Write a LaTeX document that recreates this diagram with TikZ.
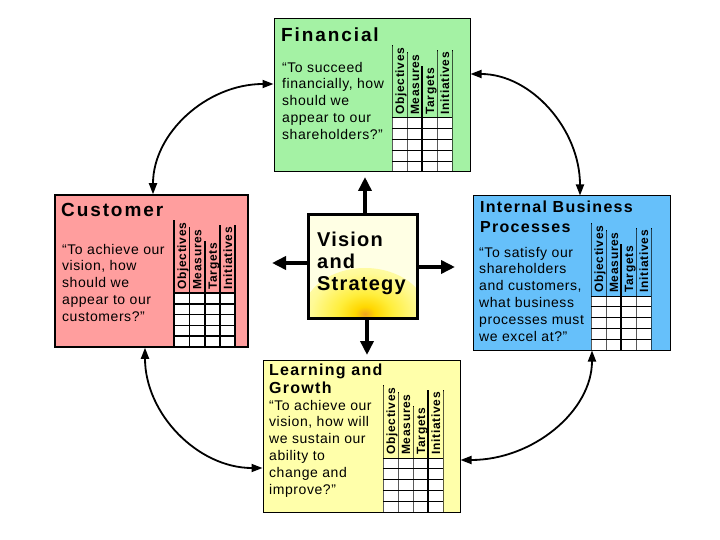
\documentclass[tikz,border=0pt]{standalone}
\usepackage{fontspec}
\setmainfont{Liberation Sans}
\newfontfamily\fA{Liberation Sans}[LetterSpace=10]
\newfontfamily\fB{Liberation Sans}[LetterSpace=8]
\newfontfamily\fC{Liberation Sans}[LetterSpace=4]
\newfontfamily\fD{Liberation Sans Bold}[LetterSpace=6]
\newfontfamily\fE{Liberation Sans}[LetterSpace=6]
\usetikzlibrary{arrows.meta,calc}

\definecolor{fingreen}{RGB}{164,242,164}
\definecolor{custpink}{RGB}{255,158,158}
\definecolor{intblue}{RGB}{102,192,250}
\definecolor{learnyel}{RGB}{255,255,170}
\definecolor{visionpale}{RGB}{255,255,228}
\definecolor{glowA}{RGB}{240,165,30}
\definecolor{glowB}{RGB}{255,215,0}
\definecolor{glowC}{RGB}{255,238,60}
\definecolor{glowD}{RGB}{255,250,150}
\definecolor{glowE}{RGB}{255,254,205}
\pgfdeclareradialshading{glow}{\pgfpoint{0bp}{0bp}}{color(0bp)=(glowA); color(4bp)=(glowB); color(11bp)=(glowC); color(22bp)=(glowD); color(36bp)=(glowE); color(50bp)=(visionpale)}

\tikzset{
  bscbox/.style={draw=black, line width=1pt, rectangle, inner sep=0pt},
  ttlbig/.style={font=\fA\bfseries\fontsize{19}{22}\selectfont, anchor=base west, inner sep=0pt},
  ttlmid/.style={font=\fB\bfseries\fontsize{16}{19}\selectfont, anchor=base west, inner sep=0pt},
  bodytxt/.style={font=\fC\fontsize{14}{16.8}\selectfont, anchor=north west, inner sep=0pt, align=left},
  colhead/.style={font=\fD\fontsize{12}{14}\selectfont, rotate=90, anchor=base west, inner sep=0pt},
  vistxt/.style={font=\fE\bfseries\fontsize{20}{22}\selectfont, anchor=base west, inner sep=0pt},
  bigarrow/.style={line width=3.5pt, -{Triangle[length=14pt,width=13pt]}},
  curvarrow/.style={line width=1.8pt, {Triangle[length=11pt,width=8pt]}-{Triangle[length=11pt,width=8pt]}}
}

% #1 name, #2 x0, #3 col width, #4 top, #5 bottom, #6 thick index, #7 line width
\newcommand{\bsctable}[7]{%
  \fill[white] (#2,#4) rectangle ({#2+4*#3},#5);
  \foreach \i/\hd in {0/Objectives,1/Measures,2/Targets,3/Initiatives}{
    \node[colhead] (#1h\i) at ({#2+(\i+0.5)*#3+4.5},{#4-3}) {\hd};
  }
  \foreach \r in {0,...,5}{
    \draw[line width=#7 pt] (#2,{#4+\r*(#5-#4)/5}) -- ({#2+4*#3},{#4+\r*(#5-#4)/5});
  }
  \foreach \i in {0,1,2,3}{
    \pgfmathsetmacro\lw{(\i==#6)?1.9:#7}
    \coordinate (#1b\i) at ({#2+\i*#3},#5);
    \draw[line width=\lw pt] (#1b\i) -- (#1b\i |- #1h\i.east) -- ++(0,-2);
  }
  \coordinate (#1b4) at ({#2+4*#3},#5);
  \draw[line width=#7 pt] (#1b4) -- (#1b4 |- #1h3.east) -- ++(0,-2);
}

\begin{document}
\begin{tikzpicture}[x=1pt,y=-1pt]
\useasboundingbox[fill=white] (0,0) rectangle (720,540);

% ---------- Financial ----------
\node[bscbox, fill=fingreen, minimum width=196pt, minimum height=153pt] (fin) at (372,95.5) {};
\bsctable{fin}{392}{15}{118}{172}{2}{1}
\node[ttlbig] (finT) at (281,42) {Financial};
\node[bodytxt] (finB) at (282,61.8) {“To succeed\\financially, how\\should we\\appear to our\\shareholders?”};

% ---------- Customer ----------
\node[bscbox, fill=custpink, line width=1.5pt, minimum width=193pt, minimum height=152pt] (cust) at (151.5,271) {};
\bsctable{cust}{174}{15.3}{293}{347}{2}{1.5}
\node[ttlbig] (custT) at (61,217) {Customer};
\node[bodytxt] (custB) at (62,243.8) {“To achieve our\\vision, how\\should we\\appear to our\\customers?”};

% ---------- Internal Business Processes ----------
\node[bscbox, fill=intblue, minimum width=197pt, minimum height=154pt] (int) at (571.5,273) {};
\bsctable{int}{591}{15}{296}{350}{2}{1}
\node[ttlmid] (intT1) at (480,213) {Internal Business};
\node[ttlmid] (intT2) at (480,233) {Processes};
\node[bodytxt] (intB) at (479,246.8) {“To satisfy our\\shareholders\\and customers,\\what business\\processes must\\we excel at?”};

% ---------- Learning and Growth ----------
\node[bscbox, fill=learnyel, minimum width=197pt, minimum height=152pt] (learn) at (361.5,436) {};
\bsctable{learn}{383}{15}{458}{512}{3}{1}
\node[ttlmid] (learnT1) at (269,375) {Learning and};
\node[ttlmid] (learnT2) at (269,393) {Growth};
\node[bodytxt] (learnB) at (269,399.8) {“To achieve our\\vision, how will\\we sustain our\\ability to\\change and\\improve?”};

% ---------- Vision and Strategy ----------
\begin{scope}
  \clip (308,215) rectangle (417,318);
  \fill[visionpale] (308,215) rectangle (417,318);
  \shade[shading=glow] (365,314) ellipse (62 and 46);
\end{scope}
\node[draw=black, line width=3pt, rectangle, inner sep=0pt, minimum width=109pt, minimum height=103pt] (vision) at (362.5,266.5) {};
\node[vistxt] (v1) at (317,246) {Vision};
\node[vistxt] (v2) at (317,268) {and};
\node[vistxt] (v3) at (317,290) {Strategy};

% straight arrows from the centre
\coordinate (upT) at (365,177);
\coordinate (dnT) at (367,355);
\coordinate (lfT) at (272,263);
\coordinate (rtT) at (455,267);
\draw[bigarrow] (upT |- vision.north) -- (upT);
\draw[bigarrow] (dnT |- vision.south) -- (dnT);
\draw[bigarrow] (lfT -| vision.west) -- (lfT);
\draw[bigarrow] (rtT -| vision.east) -- (rtT);

% curved double arrows
\coordinate (c1a) at ([yshift=11.5pt]fin.west);
\coordinate (c1b) at ([xshift=1.5pt]cust.north);
\draw[curvarrow] (c1a) .. controls (207,84) and (153,133) .. (c1b);

\coordinate (c2a) at ([yshift=21.5pt]fin.east);
\coordinate (c2b) at ([xshift=8.5pt]int.north);
\draw[curvarrow] (c2a) .. controls (531,74) and (580,129) .. (c2b);

\coordinate (c3a) at ([xshift=-6.5pt]cust.south);
\coordinate (c3b) at ([yshift=-32pt]learn.west);
\draw[curvarrow] (c3a) .. controls (145,414) and (198,468) .. (c3b);

\coordinate (c4a) at ([xshift=20.5pt]int.south);
\coordinate (c4b) at ([yshift=-24pt]learn.east);
\draw[curvarrow] (c4a) .. controls (592,411) and (533,460) .. (c4b);
\end{tikzpicture}
\end{document}
